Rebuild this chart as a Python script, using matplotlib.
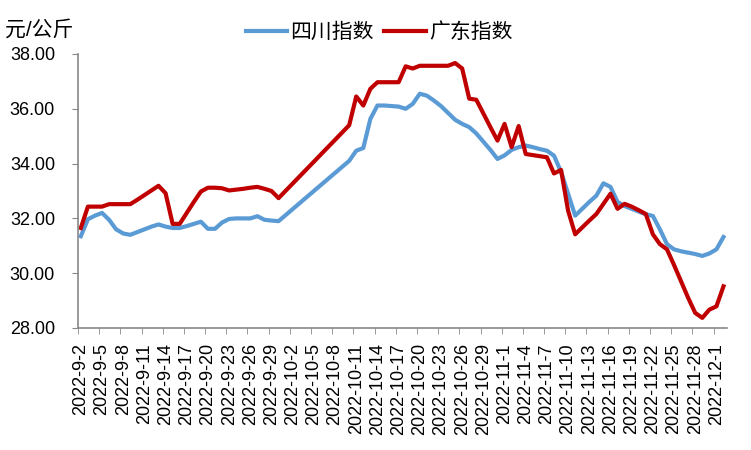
import matplotlib
matplotlib.use('Agg')
import matplotlib.pyplot as plt
import pandas as pd
import numpy as np

plt.rcParams['font.family'] = ['Liberation Sans', 'Noto Sans CJK SC']

# daily series, 2022-9-2 .. 2022-12-2, no data 10-1 .. 10-9 (holiday)
start = pd.Timestamp('2022-09-02')
end = pd.Timestamp('2022-12-02')
holiday = pd.date_range('2022-10-01', '2022-10-09')
dates = [d for d in pd.date_range(start, end) if d not in holiday]

sichuan = [
    # Sep 2-30
    31.35, 31.97, 32.10, 32.20, 31.95, 31.60, 31.45, 31.40, 31.50, 31.60,
    31.70, 31.78, 31.70, 31.65, 31.65, 31.72, 31.80, 31.88, 31.62, 31.62,
    31.85, 31.98, 32.00, 32.00, 32.00, 32.08, 31.95, 31.92, 31.90,
    # Oct 10-31
    34.10, 34.47, 34.57, 35.63, 36.12, 36.12, 36.10, 36.08, 36.00, 36.18,
    36.55, 36.48, 36.30, 36.10, 35.85, 35.60, 35.45, 35.33, 35.10, 34.80,
    34.50, 34.17,
    # Nov 1-30
    34.30, 34.50, 34.60, 34.66, 34.60, 34.53, 34.47, 34.29, 33.70, 32.90,
    32.10, 32.35, 32.60, 32.83, 33.28, 33.15, 32.60, 32.45, 32.35, 32.25,
    32.15, 32.09, 31.60, 31.06, 30.87, 30.80, 30.75, 30.70, 30.63, 30.72,
    # Dec 1-2
    30.87, 31.32,
]

guangdong = [
    # Sep 2-30
    31.65, 32.43, 32.43, 32.43, 32.52, 32.52, 32.52, 32.52, 32.68, 32.85,
    33.02, 33.19, 32.92, 31.80, 31.80, 32.20, 32.60, 32.98, 33.12, 33.12,
    33.10, 33.02, 33.05, 33.08, 33.12, 33.15, 33.08, 33.00, 32.74,
    # Oct 10-31
    35.40, 36.45, 36.12, 36.73, 36.97, 36.97, 36.97, 36.97, 37.55, 37.47,
    37.57, 37.57, 37.57, 37.57, 37.57, 37.67, 37.47, 36.37, 36.33, 35.83,
    35.33, 34.84,
    # Nov 1-30
    35.45, 34.60, 35.37, 34.35, 34.31, 34.27, 34.23, 33.64, 33.77, 32.28,
    31.42, 31.67, 31.92, 32.16, 32.53, 32.90, 32.35, 32.53, 32.43, 32.30,
    32.16, 31.42, 31.06, 30.87, 30.30, 29.70, 29.10, 28.55, 28.37, 28.67,
    # Dec 1-2
    28.79, 29.52,
]

x = np.array([(d - start).days for d in dates])
n_days = (end - start).days + 1
tick_days = list(range(0, n_days, 3))
tick_labels = []
for i in tick_days:
    d = start + pd.Timedelta(days=i)
    tick_labels.append(f'{d.year}-{d.month}-{d.day}')

fig = plt.figure(figsize=(7.51, 4.5), dpi=100)
ax = fig.add_axes([78 / 751, 1 - 328 / 450, 649 / 751, 274 / 450])

l1, = ax.plot(x, sichuan, color='#5B9BD5', linewidth=3.0, solid_joinstyle='round', label='四川指数')
l2, = ax.plot(x, guangdong, color='#C00000', linewidth=3.0, solid_joinstyle='round', label='广东指数')

ax.set_xlim(-0.4, n_days - 0.5)
ax.set_ylim(28, 38)
ax.set_yticks(np.arange(28, 38.01, 2))
ax.set_yticklabels([f'{v:.2f}' for v in np.arange(28, 38.01, 2)])

ax.set_xticks(tick_days)
ax.set_xticklabels(tick_labels, rotation=90)
ax.set_xticks([i - 0.4 for i in tick_days], minor=True)
ax.tick_params(axis='x', which='major', length=0, pad=11, labelsize=13)
ax.tick_params(axis='x', which='minor', length=4.5, color='#888888', direction='out')
ax.tick_params(axis='y', length=4.5, color='#888888', pad=12, labelsize=13)

for s in ['top', 'right']:
    ax.spines[s].set_visible(False)
for s in ['left', 'bottom']:
    ax.spines[s].set_color('#888888')
    ax.spines[s].set_linewidth(1.2)

fig.text(5 / 751, 1 - 30 / 450, '元/公斤', fontsize=15, ha='left', va='center')
fig.legend(handles=[l1, l2], loc='center', bbox_to_anchor=(379 / 751, 1 - 32 / 450),
           ncol=2, frameon=False, fontsize=15, handlelength=2.0,
           handletextpad=0.15, columnspacing=0.5)

fig.savefig('out.png', dpi=100)
